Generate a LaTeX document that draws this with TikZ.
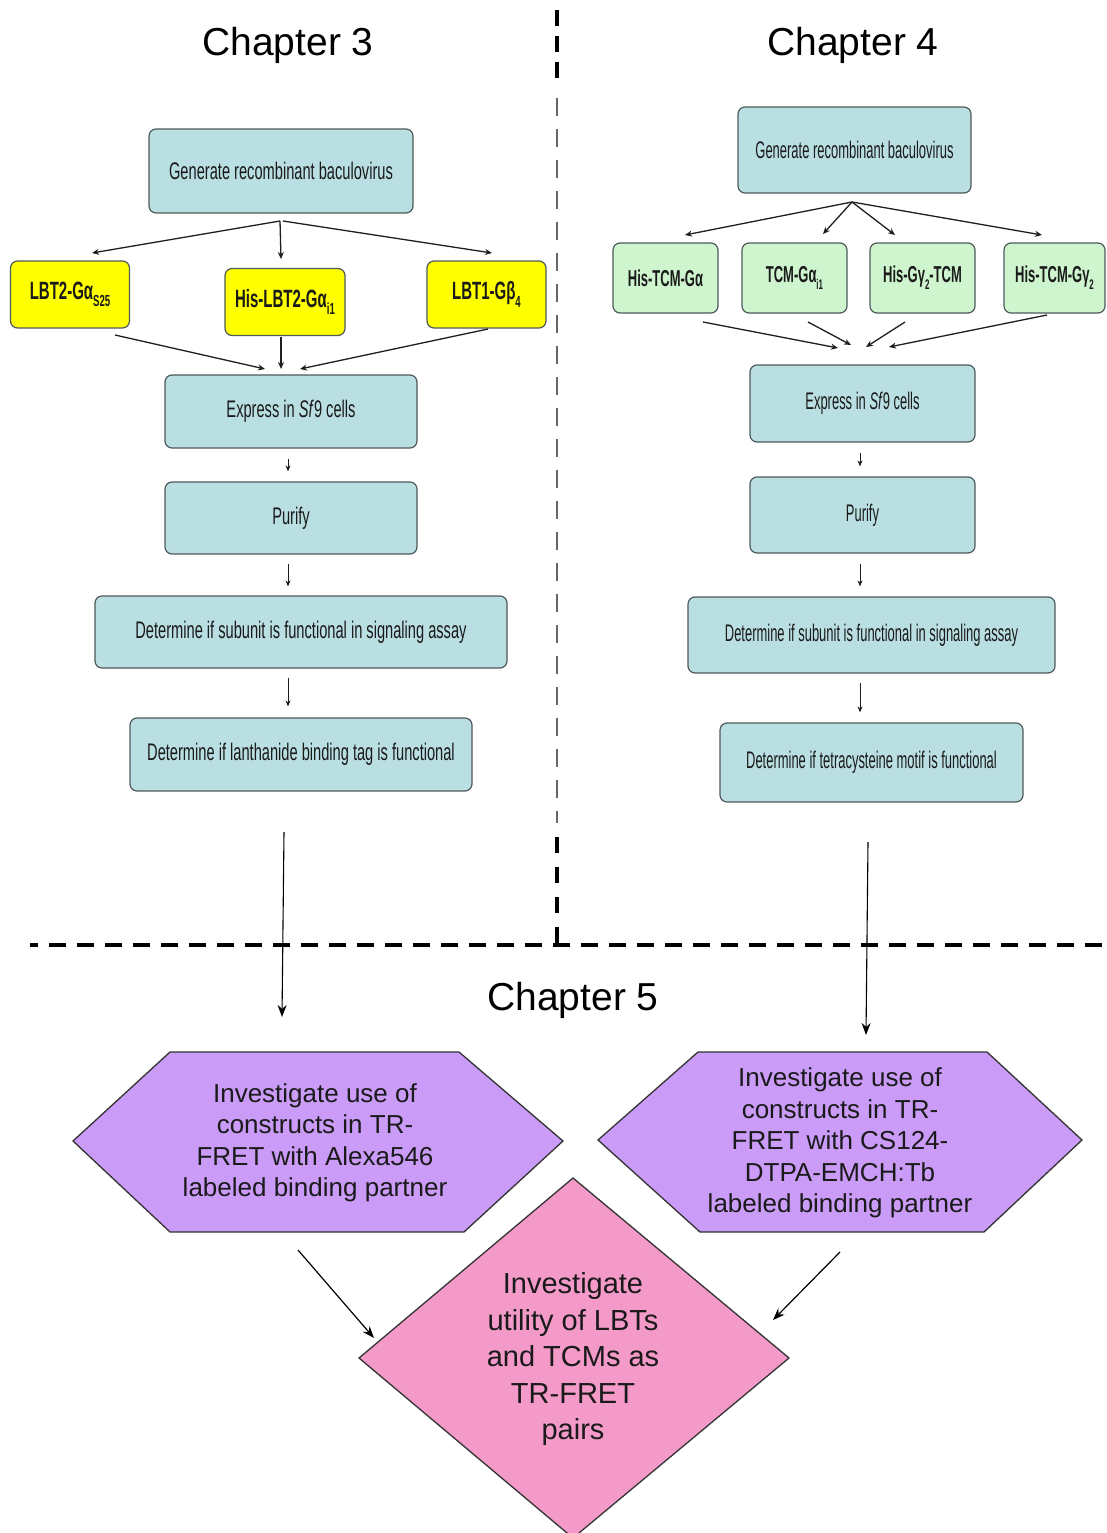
\documentclass[tikz,border=0pt]{standalone}
\usepackage{fontspec}
\setmainfont{Liberation Sans}
\newfontfamily\narrowA[FakeStretch=0.61]{Liberation Sans}
\newfontfamily\narrowB[FakeStretch=0.54]{Liberation Sans}
\newfontfamily\narrowY[FakeStretch=0.6]{Liberation Sans}
\newfontfamily\narrowG[FakeStretch=0.565]{Liberation Sans}
\usetikzlibrary{arrows.meta}
\newcommand\mysub[2]{\raisebox{-0.3em}{\fontsize{#1}{#1}\selectfont #2}}
\definecolor{boxblue}{HTML}{BADFE3}
\definecolor{boxline}{HTML}{4F5A5C}
\definecolor{ylw}{HTML}{FFFF00}
\definecolor{grn}{HTML}{CFF5CF}
\definecolor{purp}{HTML}{CA9BF7}
\definecolor{pink}{HTML}{F49AC9}
\definecolor{txt}{HTML}{1A1A1A}
\tikzset{
  basebox/.style={draw=boxline, line width=1.2pt, rounded corners=7pt, inner sep=0pt, align=center, text=txt},
  boxA/.style={basebox, fill=boxblue, font={\narrowA\fontsize{24}{28}\selectfont}},
  boxB/.style={basebox, fill=boxblue, font={\narrowB\fontsize{24}{28}\selectfont}},
  ybox/.style={basebox, fill=ylw, font={\narrowY\bfseries\fontsize{25}{28}\selectfont}, minimum width=119pt, minimum height=67pt},
  gbox/.style={basebox, fill=grn, font={\narrowG\bfseries\fontsize{23}{28}\selectfont}, minimum height=70pt},
  title/.style={anchor=base, font={\fontsize{39}{46}\selectfont}, text=black},
  arr/.style={draw=black!88, line width=1.3pt, -{Stealth[length=7pt,width=6pt]}},
  arrv/.style={draw=black!88, line width=0.9pt, -{Stealth[length=6pt,width=5pt]}},
  arrlong/.style={draw=black, line width=1.1pt, -{Stealth[length=12pt,width=9pt]}},
  thickdash/.style={draw=black, line width=4.5pt},
  hexshape/.style={draw=black!80, line width=1.3pt, fill=purp},
  hextext/.style={align=center, text=txt, font={\fontsize{26}{31.5}\selectfont}},
}
\begin{document}
\begin{tikzpicture}[x=1pt, y=-1pt]
\useasboundingbox (0,0) rectangle (1107,1533);
\clip (0,0) rectangle (1107,1533);
\fill[white] (0,0) rectangle (1107,1533);

% titles
\node[title] (ch3) at (288,56) {Chapter 3};
\node[title] (ch4) at (853,56) {Chapter 4};
\node[title] (ch5) at (573,1010) {Chapter 5};

% dividers
\draw[thickdash, dash pattern=on 16pt off 10pt] (557,10) -- (557,86);
\draw[draw=black!60, line width=1.5pt, dash pattern=on 18pt off 13pt] (557,98) -- (557,823);
\draw[thickdash, dash pattern=on 16pt off 14pt] (557,837) -- (557,947);
\draw[thickdash, dash pattern=on 17pt off 11pt] (570,945) -- (30,945);
\draw[thickdash, dash pattern=on 17pt off 11pt] (553,945) -- (1107,945);

% Chapter 3 column
\node[boxA, minimum width=264pt, minimum height=84pt] (gen3) at (281,171) {Generate recombinant baculovirus};
\node[ybox] (y1) at (70,294.5) {LBT2-Gα\mysub{16}{S25}};
\node[ybox, minimum width=120pt] (y2) at (285,302) {His-LBT2-Gα\mysub{16}{i1}};
\node[ybox] (y3) at (486.5,294.5) {LBT1-Gβ\mysub{16}{4}};
\node[boxA, minimum width=252pt, minimum height=73pt] (exp3) at (291,411.5) {Express in \textit{Sf}9 cells};
\node[boxA, minimum width=252pt, minimum height=72pt] (pur3) at (291,518) {Purify};
\node[boxA, minimum width=412pt, minimum height=72pt] (det3) at (301,632) {Determine if subunit is functional in signaling assay};
\node[boxA, minimum width=342pt, minimum height=73pt] (lan3) at (301,754.5) {Determine if lanthanide binding tag is functional};

\coordinate (g3a) at (280,221);
\coordinate (g3b) at (283,221);
\coordinate (y1in) at (92,253);
\coordinate (y2in) at (281,259);
\coordinate (y3in) at (492,253);
\coordinate (y1out) at (115,335);
\coordinate (y2out) at (281,337);
\coordinate (y3out) at (488,329);
\coordinate (e3a) at (265,369);
\coordinate (e3b) at (281,369);
\coordinate (e3c) at (300,369);
\coordinate (l3out) at (284,832);
\coordinate (hexLin) at (282,1017);

\draw[arr] (g3a) -- (y1in);
\draw[arr] (g3a) -- (y2in);
\draw[arr] (g3b) -- (y3in);
\draw[arr] (y1out) -- (e3a);
\draw[arr] (y2out) -- (e3b);
\draw[arr] (y3out) -- (e3c);
\draw[arrv, shorten <=10pt, shorten >=10pt] (exp3.south -| 288,0) -- (pur3.north -| 288,0);
\draw[arrv, shorten <=9pt, shorten >=9pt] (pur3.south -| 288,0) -- (det3.north -| 288,0);
\draw[arrv, shorten <=9pt, shorten >=11pt] (det3.south -| 288,0) -- (lan3.north -| 288,0);
\draw[arrlong] (l3out) -- (hexLin);

% Chapter 4 column
\node[boxB, minimum width=233pt, minimum height=86pt] (gen4) at (854.5,150) {Generate recombinant baculovirus};
\node[gbox, minimum width=105pt] (g1) at (665.5,278) {His-TCM-Gα};
\node[gbox, minimum width=105pt] (g2) at (794.5,278) {TCM-Gα\mysub{14}{i1}};
\node[gbox, minimum width=105pt] (g3) at (922.5,278) {His-Gγ\mysub{14}{2}-TCM};
\node[gbox, minimum width=101pt] (g4) at (1054.5,278) {His-TCM-Gγ\mysub{14}{2}};
\node[boxB, minimum width=225pt, minimum height=77pt] (exp4) at (862.5,403.5) {Express in \textit{Sf}9 cells};
\node[boxB, minimum width=225pt, minimum height=76pt] (pur4) at (862.5,515) {Purify};
\node[boxB, minimum width=367pt, minimum height=76pt] (det4) at (871.5,635) {Determine if subunit is functional in signaling assay};
\node[boxB, minimum width=303pt, minimum height=79pt] (tet4) at (871.5,762.5) {Determine if tetracysteine motif is functional};

\coordinate (g4o) at (852,202);
\coordinate (g1in) at (685,235);
\coordinate (g2in) at (823,234);
\coordinate (g3in) at (895,235);
\coordinate (g4in) at (1042,235);
\coordinate (g1out) at (703,322);
\coordinate (g2out) at (808,322);
\coordinate (g3out) at (905,322);
\coordinate (g4out) at (1047,315);
\coordinate (e4a) at (838,348);
\coordinate (e4b) at (851,345);
\coordinate (e4c) at (866,347);
\coordinate (e4d) at (889,347);
\coordinate (t4out) at (868,842);
\coordinate (hexRin) at (866,1035);

\draw[arr] (g4o) -- (g1in);
\draw[arr] (g4o) -- (g2in);
\draw[arr] (g4o) -- (g3in);
\draw[arr] (g4o) -- (g4in);
\draw[arr] (g1out) -- (e4a);
\draw[arr] (g2out) -- (e4b);
\draw[arr] (g3out) -- (e4c);
\draw[arr] (g4out) -- (e4d);
\draw[arrv, shorten <=10pt, shorten >=10pt] (exp4.south -| 860,0) -- (pur4.north -| 860,0);
\draw[arrv, shorten <=10pt, shorten >=10pt] (pur4.south -| 860,0) -- (det4.north -| 860,0);
\draw[arrv, shorten <=9pt, shorten >=10pt] (det4.south -| 860,0) -- (tet4.north -| 860,0);
\draw[arrlong] (t4out) -- (hexRin);

% Chapter 5
\draw[hexshape] (73,1141) -- (170,1052) -- (459,1052) -- (563,1141) -- (464,1232) -- (170,1232) -- cycle;
\node[hextext] (hexL) at (315,1143) {Investigate use of\\constructs in TR-\\FRET with Alexa546\\labeled binding partner};
\draw[hexshape] (598,1140) -- (698,1052) -- (987,1052) -- (1082,1140) -- (984,1232) -- (700,1232) -- cycle;
\node[hextext] (hexR) at (840,1143) {Investigate use of\\constructs in TR-\\FRET with CS124-\\DTPA-EMCH:Tb\\labeled binding partner};

\draw[draw=black!80, line width=1.3pt, fill=pink] (573,1178) -- (789,1358) -- (573,1538) -- (359,1358) -- cycle;
\node[align=center, text=txt, font={\fontsize{29}{36.5}\selectfont}] (dia) at (573,1359) {Investigate\\utility of LBTs\\and TCMs as\\TR-FRET\\pairs};

\coordinate (hLout) at (298,1250);
\coordinate (dLin) at (374,1338);
\coordinate (hRout) at (840,1252);
\coordinate (dRin) at (773,1320);
\draw[arrlong, line width=1.2pt] (hLout) -- (dLin);
\draw[arrlong, line width=1.2pt] (hRout) -- (dRin);
\end{tikzpicture}
\end{document}
